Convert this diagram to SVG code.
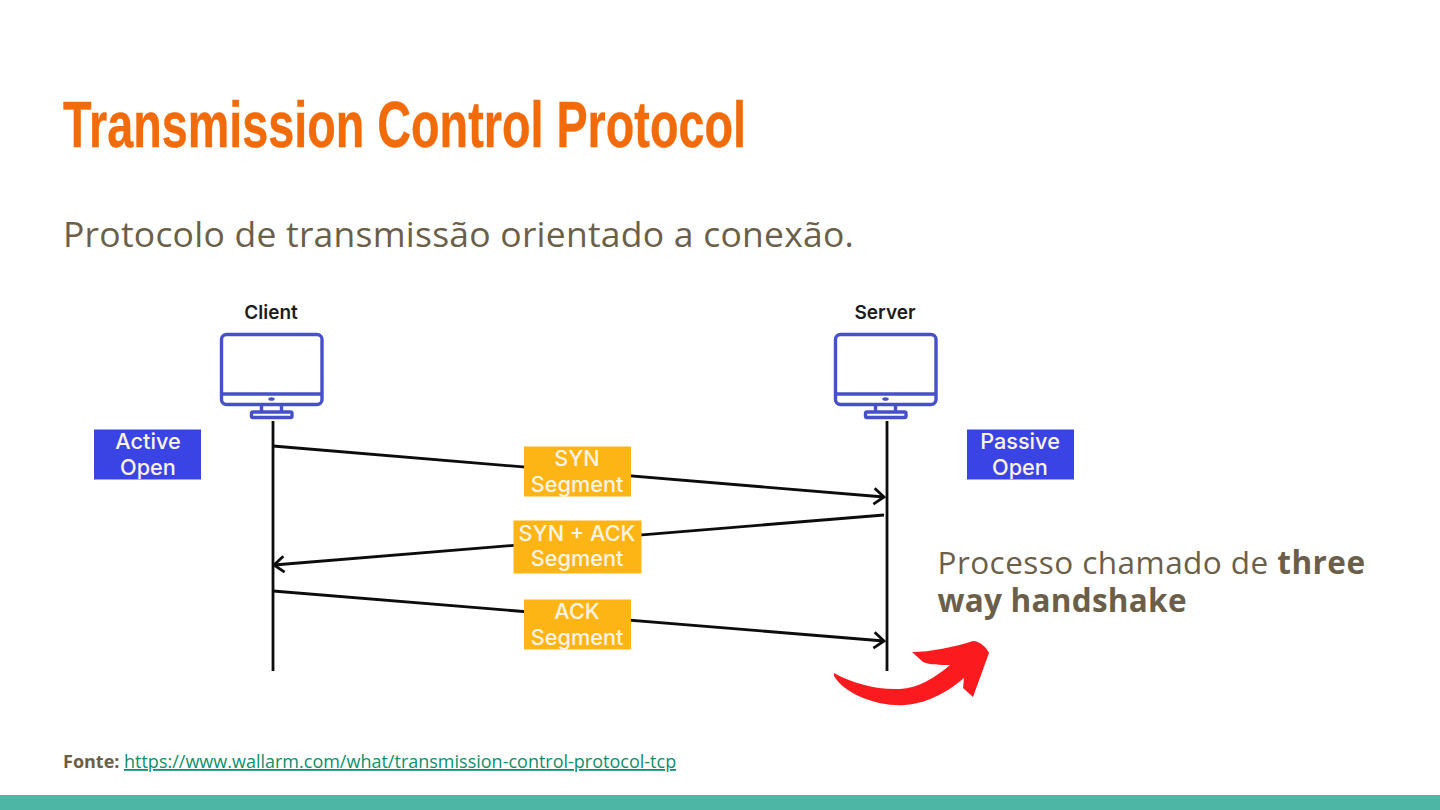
<svg xmlns="http://www.w3.org/2000/svg" width="1440" height="810" viewBox="0 0 1440 810">
<style>
.body{font-family:"Open Sans","Noto Sans",sans-serif;fill:#6b5f49}
.lbl{font-family:Inter,"Liberation Sans",sans-serif;font-weight:500;font-size:21.700px;text-anchor:middle}
.w{fill:#fbf3e4}
.cap{font-family:Inter,"Liberation Sans",sans-serif;font-weight:600;font-size:19px;text-anchor:middle;fill:#1c1c1c}
.mon{fill:none;stroke:#4650c8;stroke-width:3.400;stroke-linejoin:round}
.ln{fill:none;stroke:#0c0c0c;stroke-width:2.800}
.blue{fill:#3a44e4}
.amb{fill:#fdb515}
</style>
<defs>
<marker id="ah" viewBox="0 0 14 20" refX="12" refY="10" markerWidth="14" markerHeight="20" markerUnits="userSpaceOnUse" orient="auto"><path d="M2 2L12 10L2 18" fill="none" stroke="#0c0c0c" stroke-width="2.800"/></marker>
<g id="monitor">
<rect x="0" y="0" width="100.500" height="70" rx="5" class="mon"/>
<path d="M0 59.500H100.500" class="mon"/>
<path d="M40 70V77.500M60 70V77.500" class="mon"/>
<rect x="30" y="77.500" width="40.500" height="5.500" rx="1.500" class="mon"/>
<ellipse cx="50" cy="64.500" rx="3.200" ry="1.800" fill="#4650c8"/>
</g>
</defs>
<rect width="1440" height="810" fill="#fff"/>
<rect id="footer-band" x="0" y="795" width="1440" height="15" fill="#4db6a4"/>
<text id="title" x="63" y="146.500" font-family="'Liberation Sans',sans-serif" font-weight="700" font-size="64" fill="#f26b0a" stroke="#f26b0a" stroke-width="0.400" textLength="683" lengthAdjust="spacingAndGlyphs">Transmission Control Protocol</text>
<text id="subtitle" class="body" x="63" y="247" font-size="35.500" letter-spacing="0.230">Protocolo de transmissão orientado a conexão.</text>
<g id="client"><text class="cap" x="271" y="318.500">Client</text><use href="#monitor" x="221.500" y="334.500"/></g>
<g id="server"><text class="cap" x="885" y="318.500">Server</text><use href="#monitor" x="835.500" y="334.500"/></g>
<g id="connectors">
<path class="ln" d="M273 421V671"/>
<path class="ln" d="M887 421V671"/>
<path class="ln" d="M273 446L884 497" marker-end="url(#ah)"/>
<path class="ln" d="M884 515L274 565" marker-end="url(#ah)"/>
<path class="ln" d="M273 591L884 641" marker-end="url(#ah)"/>
</g>
<g id="active-open"><rect class="blue" x="94" y="429.500" width="107" height="50"/><text class="lbl w" x="148" y="449">Active</text><text class="lbl w" x="148" y="474.500">Open</text></g>
<g id="passive-open"><rect class="blue" x="967" y="429.500" width="107" height="50"/><text class="lbl w" x="1020" y="449">Passive</text><text class="lbl w" x="1020" y="474.500">Open</text></g>
<g id="syn"><rect class="amb" x="524" y="446.500" width="107" height="50"/><text class="lbl w" x="577" y="466">SYN</text><text class="lbl w" x="577" y="491.500">Segment</text></g>
<g id="syn-ack"><rect class="amb" x="513.500" y="520.500" width="128" height="53"/><text class="lbl w" x="577" y="541">SYN + ACK</text><text class="lbl w" x="577" y="566">Segment</text></g>
<g id="ack"><rect class="amb" x="524" y="599.500" width="107" height="50"/><text class="lbl w" x="577" y="619">ACK</text><text class="lbl w" x="577" y="644.500">Segment</text></g>
<g id="note"><text class="body" font-size="31.500" letter-spacing="0.450"><tspan x="937.500" y="574">Processo chamado de </tspan><tspan font-weight="700">three</tspan><tspan x="937.500" y="612" font-weight="700" letter-spacing="0.250">way handshake</tspan></text></g>
<path id="red-arrow" fill="#fb1a1e" d="M834 673C852 683 876 690 900 689C918 688 935 678 950 665C940 665 930 665 923 662L912 652C930 652 955 647 973 641C980 641 987 648 989 653L973 697L963 688L964 678C950 690 930 703 905 705C880 707 845 695 834 676Z"/>
<g id="source"><text class="body" x="63" y="768" font-size="18" font-weight="700">Fonte: </text><text x="124" y="768" font-family="'Open Sans',sans-serif" font-size="18" fill="#0b8f6b" text-decoration="underline">https://www.wallarm.com/what/transmission-control-protocol-tcp</text></g>
</svg>
